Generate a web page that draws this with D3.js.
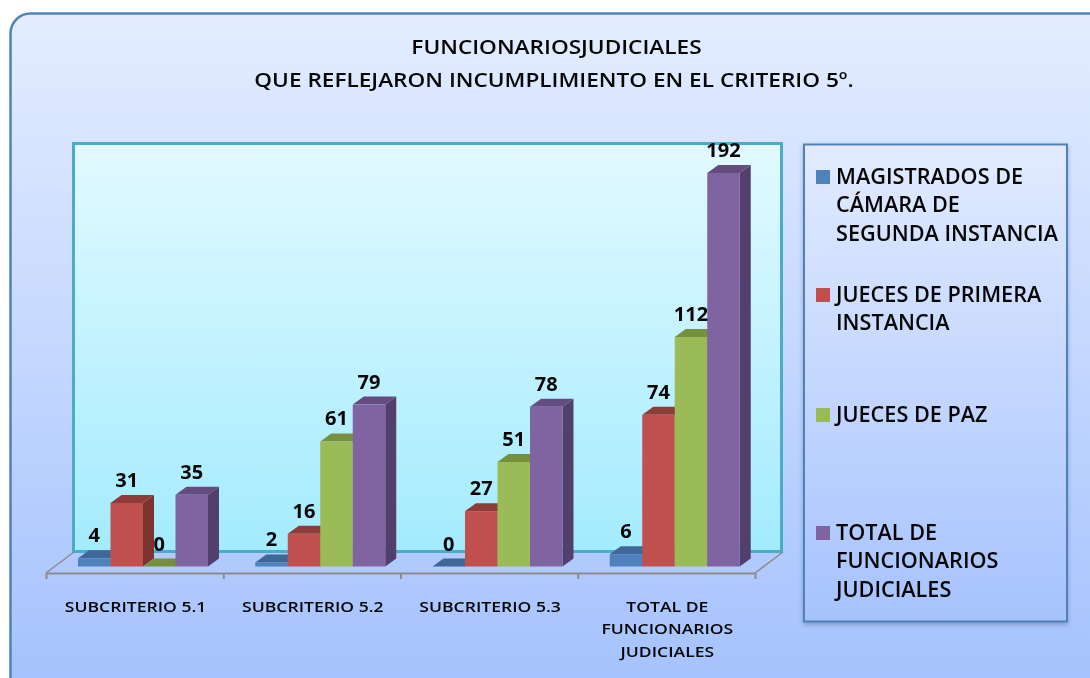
<!DOCTYPE html>
<html>
<head>
<meta charset="utf-8">
<script src="https://cdn.jsdelivr.net/npm/d3@7"></script>
<style>
  html, body { margin: 0; padding: 0; background: #fff; }
  svg { display: block; }
  text { font-family: "Open Sans", "Noto Sans", sans-serif; fill: #050505; filter: blur(0.35px); }
</style>
</head>
<body>
<div id="chart"></div>
<script>
// chart data
var titleLines = ["FUNCIONARIOSJUDICIALES", "QUE REFLEJARON INCUMPLIMIENTO EN EL CRITERIO 5º."];
var categories = ["SUBCRITERIO 5.1", "SUBCRITERIO 5.2", "SUBCRITERIO 5.3", "TOTAL DE|FUNCIONARIOS|JUDICIALES"];
var seriesNames = ["MAGISTRADOS DE|CÁMARA DE|SEGUNDA INSTANCIA", "JUECES DE PRIMERA|INSTANCIA", "JUECES DE PAZ", "TOTAL DE|FUNCIONARIOS|JUDICIALES"];
var magistrados = [4, 2, 0, 6];
var juecesPrimera = [31, 16, 27, 74];
var juecesPaz = [0, 61, 51, 112];
var totalFuncionarios = [35, 79, 78, 192];
var allSeries = [magistrados, juecesPrimera, juecesPaz, totalFuncionarios];

var front = ["#4f81bd", "#c0504d", "#9bbb59", "#8064a2"];
var side = ["#385d8a", "#7c322f", "#66803a", "#533f6c"];
var top_ = ["#3f6797", "#8e3b39", "#76903f", "#644c80"];

var width = 1090, height = 678;
var depthX = 11, depthY = 8;

var svg = d3.select("#chart").append("svg")
    .attr("width", width)
    .attr("height", height);

var defs = svg.append("defs");

function vGradient(id, a, b) {
    var g = defs.append("linearGradient").attr("id", id)
        .attr("x1", 0).attr("y1", 0).attr("x2", 0).attr("y2", 1);
    g.append("stop").attr("offset", "0%").attr("stop-color", a);
    g.append("stop").attr("offset", "100%").attr("stop-color", b);
}
vGradient("panelFill", "#e4edff", "#a3c1fe");
vGradient("legendFill", "#e2ebff", "#a6c3fe");
vGradient("wallFill", "#e2faff", "#a3ebfe");

var shadow = defs.append("filter").attr("id", "boxShadow")
    .attr("x", "-5%").attr("y", "-5%").attr("width", "110%").attr("height", "110%");
shadow.append("feDropShadow").attr("dx", 0).attr("dy", 2).attr("stdDeviation", 2)
    .attr("flood-color", "#335").attr("flood-opacity", 0.35);

// the original text is wider than the font, so stretch it sideways
function stretch(sel, k) {
    sel.each(function () {
        var w = this.getComputedTextLength();
        d3.select(this).attr("textLength", w * k).attr("lengthAdjust", "spacingAndGlyphs");
    });
}

// outer panel
svg.append("rect")
    .attr("x", 10.5).attr("y", 13.5)
    .attr("width", 1100).attr("height", 690)
    .attr("rx", 20).attr("ry", 20)
    .attr("fill", "url(#panelFill)")
    .attr("stroke", "#4f81bd")
    .attr("stroke-width", 2.5);

// title
svg.selectAll("text.title").data(titleLines).enter().append("text")
    .attr("class", "title")
    .attr("x", function (d, i) { return i == 0 ? 556.5 : 554; })
    .attr("y", function (d, i) { return 54 + i * 33; })
    .attr("text-anchor", "middle")
    .attr("font-size", 20)
    .attr("font-weight", 600)
    .text(function (d) { return d; })
    .call(stretch, 1.13);

// back wall
svg.append("rect")
    .attr("x", 73.5).attr("y", 143.5)
    .attr("width", 708).attr("height", 408)
    .attr("fill", "url(#wallFill)")
    .attr("stroke", "#4bacc6")
    .attr("stroke-width", 3);

////////////////////////////////////////////////
// scales
var x0 = d3.scaleBand().domain(d3.range(categories.length)).range([46, 755]);
var x1 = d3.scaleBand().domain(d3.range(seriesNames.length)).range([32, 162]);
var y = d3.scaleLinear().domain([0, 192]).range([566.5, 173]);
var edges = d3.scaleLinear().domain([0, categories.length]).range([46, 755]);

// floor edges and axis
[46, 755].forEach(function (px) {
    svg.append("line")
        .attr("x1", px).attr("y1", 573)
        .attr("x2", px + 28).attr("y2", 552)
        .attr("stroke", "#8c8c8c").attr("stroke-width", 1.5);
});

var axis = svg.append("g")
    .attr("transform", "translate(0,573)")
    .call(d3.axisBottom(edges).tickValues(d3.range(categories.length + 1)).tickSize(6).tickSizeOuter(0).tickFormat(""));
axis.selectAll("path, line").attr("stroke", "#8c8c8c").attr("stroke-width", 2);

////////////////////////////////////////////////
// bars
categories.forEach(function (cat, c) {
    var g = svg.append("g").attr("transform", "translate(" + x0(c) + ",0)");
    allSeries.forEach(function (values, s) {
        var v = values[c];
        var l = x1(s), r = l + x1.bandwidth();
        var t = y(v), b = y(0);
        g.append("polygon")
            .attr("points", [[r, t], [r + depthX, t - depthY], [r + depthX, b - depthY], [r, b]].join(" "))
            .attr("fill", side[s]);
        g.append("polygon")
            .attr("points", [[l, t], [l + depthX, t - depthY], [r + depthX, t - depthY], [r, t]].join(" "))
            .attr("fill", top_[s]);
        g.append("rect")
            .attr("x", l).attr("y", t)
            .attr("width", x1.bandwidth()).attr("height", b - t)
            .attr("fill", front[s]);
    });
});

// value labels go on top of all the bars
categories.forEach(function (cat, c) {
    allSeries.forEach(function (values, s) {
        svg.append("text")
            .attr("x", x0(c) + x1(s) + x1.bandwidth() / 2)
            .attr("y", y(values[c]) - depthY - 8)
            .attr("text-anchor", "middle")
            .attr("font-size", 20)
            .attr("font-weight", 700)
            .text(values[c]);
    });
});

// category labels
categories.forEach(function (cat, c) {
    var lines = cat.split("|");
    lines.forEach(function (line, i) {
        svg.append("text")
            .attr("x", x0(c) + x0.bandwidth() / 2 + 1)
            .attr("y", 611.5 + i * 22.5)
            .attr("text-anchor", "middle")
            .attr("font-size", 15)
            .attr("font-weight", 600)
            .text(line)
            .call(stretch, 1.17);
    });
});

////////////////////////////////////////////////
// legend
svg.append("rect")
    .attr("x", 804).attr("y", 144.5)
    .attr("width", 263).attr("height", 477)
    .attr("fill", "url(#legendFill)")
    .attr("stroke", "#4f81bd")
    .attr("stroke-width", 2)
    .attr("filter", "url(#boxShadow)");

var legendY = [170, 288, 408, 526];
seriesNames.forEach(function (name, s) {
    svg.append("rect")
        .attr("x", 816).attr("y", legendY[s])
        .attr("width", 14).attr("height", 14)
        .attr("fill", front[s]);
    name.split("|").forEach(function (line, i) {
        svg.append("text")
            .attr("x", 836)
            .attr("y", legendY[s] + 13.5 + i * 28.6)
            .attr("font-size", 21)
            .attr("font-weight", 600)
            .text(line)
            .call(stretch, 1.03);
    });
});
</script>
</body>
</html>
